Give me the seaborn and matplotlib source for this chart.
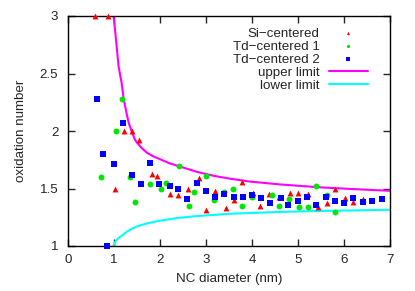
import numpy as np
import pandas as pd
import matplotlib
matplotlib.use("Agg")
import matplotlib.pyplot as plt
import seaborn as sns

# Si-centered (red triangles)
si_d = [0.58, 0.87, 1.03, 1.21, 1.40, 1.55, 1.83, 1.94, 2.21, 2.39, 2.61, 2.84, 3.01, 3.19,
        3.44, 3.60, 3.79, 4.02, 4.18, 4.36, 4.58, 4.82, 5.01, 5.22, 5.44, 5.62, 5.81, 6.02,
        6.19, 6.42]
si_ox = [3.0, 3.0, 1.50, 2.00, 2.00, 1.92, 1.63, 1.61, 1.455, 1.44, 1.50, 1.59, 1.31, 1.48,
         1.33, 1.40, 1.56, 1.46, 1.35, 1.45, 1.43, 1.46, 1.46, 1.455, 1.34, 1.37, 1.50, 1.42,
         1.38, 1.41]

# Td-centered 1 (green circles)
td1_d = [0.72, 1.04, 1.17, 1.35, 1.46, 1.78, 2.03, 2.13, 2.42, 2.64, 2.74, 3.01, 3.17, 3.39,
         3.59, 3.78, 4.01, 4.43, 4.59, 4.80, 5.02, 5.22, 5.39, 5.62, 5.80]
td1_ox = [1.60, 2.00, 2.28, 1.60, 1.38, 1.54, 1.50, 1.55, 1.70, 1.345, 1.47, 1.61, 1.40, 1.47,
          1.50, 1.35, 1.43, 1.44, 1.35, 1.41, 1.34, 1.34, 1.52, 1.44, 1.30]

# Td-centered 2 (blue squares)
td2_d = [0.64, 0.75, 0.84, 0.99, 1.20, 1.39, 1.59, 1.79, 1.98, 2.22, 2.40, 2.59, 2.81, 3.00,
         3.20, 3.40, 3.60, 3.80, 4.01, 4.20, 4.40, 4.62, 4.78, 5.01, 5.20, 5.40, 5.61, 5.80,
         6.00, 6.20, 6.41, 6.61, 6.82]
td2_ox = [2.28, 1.80, 1.00, 1.71, 2.07, 1.62, 1.54, 1.72, 1.54, 1.52, 1.50, 1.41, 1.55, 1.48,
          1.43, 1.45, 1.43, 1.43, 1.44, 1.42, 1.37, 1.42, 1.36, 1.39, 1.43, 1.36, 1.43, 1.39,
          1.37, 1.42, 1.38, 1.39, 1.41]

# limit curves
up_d = [0.99, 1.03, 1.10, 1.165, 1.21, 1.27, 1.32, 1.39, 1.46, 1.58, 1.72, 1.85, 2.0, 2.2,
        2.44, 2.80, 3.17, 3.53, 3.96, 4.62, 5.48, 6.2, 7.0]
up_ox = [3.0, 2.85, 2.56, 2.42, 2.28, 2.16, 2.07, 1.99, 1.92, 1.86, 1.81, 1.78, 1.755, 1.72,
         1.69, 1.645, 1.61, 1.585, 1.56, 1.535, 1.51, 1.495, 1.48]
lo_d = [0.99, 1.03, 1.10, 1.20, 1.28, 1.39, 1.50, 1.62, 1.75, 2.0, 2.4, 2.8, 3.5, 4.5, 5.5, 7.0]
lo_ox = [1.0, 1.04, 1.07, 1.10, 1.125, 1.15, 1.17, 1.185, 1.20, 1.22, 1.245, 1.26, 1.28,
         1.295, 1.305, 1.315]

sns.set_style("ticks")
plt.rcParams['font.family'] = ['Liberation Sans', 'DejaVu Sans']
plt.rcParams['axes.unicode_minus'] = True

fs = 9.6
fig = plt.figure(figsize=(4.15, 2.91), dpi=100)
ax = fig.add_axes([68/415, 1-246/291, (390-68)/415, (246-16)/291])

sns.scatterplot(x=si_d, y=si_ox, ax=ax, marker='^', color='#ff0000', s=18, linewidth=0,
                label='Si\u2212centered', clip_on=False, zorder=3)
sns.scatterplot(x=td1_d, y=td1_ox, ax=ax, marker='o', color='#00e600', s=18, linewidth=0,
                label='Td\u2212centered 1', zorder=3)
sns.scatterplot(x=td2_d, y=td2_ox, ax=ax, marker='s', color='#0000ff', s=18, linewidth=0,
                label='Td\u2212centered 2', clip_on=False, zorder=3)
sns.lineplot(x=up_d, y=up_ox, ax=ax, color='#ff00ff', lw=1.5, sort=False, estimator=None,
             label='upper limit')
sns.lineplot(x=lo_d, y=lo_ox, ax=ax, color='#00ffff', lw=1.5, sort=False, estimator=None,
             label='lower limit')

ax.set_xlim(0, 7)
ax.set_ylim(1, 3)
ax.set_xticks(range(0, 8))
ax.set_yticks([1, 1.5, 2, 2.5, 3])
ax.set_yticklabels(['1', '1.5', '2', '2.5', '3'])
ax.tick_params(direction='in', length=5, width=1, top=True, right=True, labelsize=fs)
ax.tick_params(axis='y', pad=7)
ax.tick_params(axis='x', pad=6)
for sp in ax.spines.values():
    sp.set_linewidth(1)
    sp.set_color('black')
ax.set_xlabel('NC diameter (nm)', fontsize=fs, labelpad=5)
ax.set_ylabel('oxidation number', fontsize=fs, labelpad=9)

leg = ax.legend(loc='upper right', bbox_to_anchor=(0.96, 0.99), frameon=False, fontsize=fs,
                markerfirst=False, handlelength=2.9, handletextpad=0.7, labelspacing=0.05,
                markerscale=0.55, borderaxespad=0.3)

fig.savefig('out.png', dpi=100)
